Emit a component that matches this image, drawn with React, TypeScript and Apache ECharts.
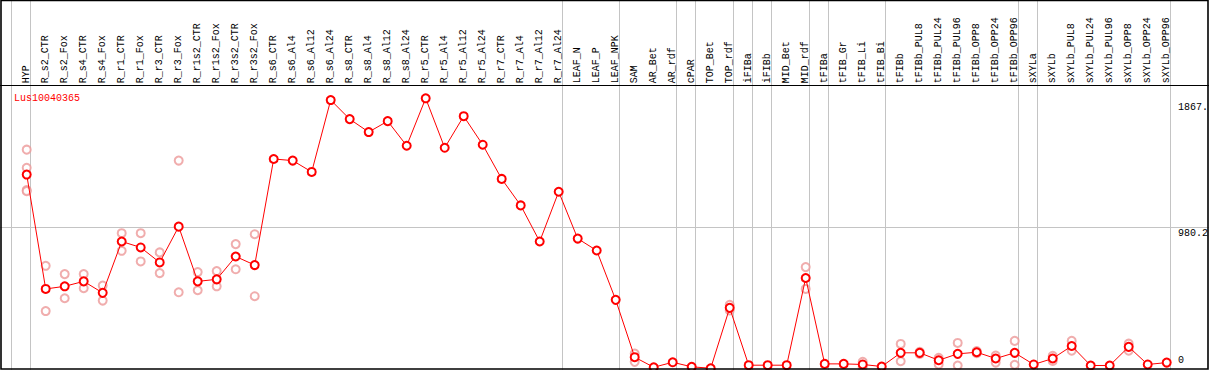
import React, { useEffect, useRef } from "react";
import * as echarts from "echarts";

const title = "Lus10040365";

const categories = [
  "HYP", "R_s2_CTR", "R_s2_Fox", "R_s4_CTR", "R_s4_Fox", "R_r1_CTR", "R_r1_Fox", "R_r3_CTR", "R_r3_Fox",
  "R_r1s2_CTR", "R_r1s2_Fox", "R_r3s2_CTR", "R_r3s2_Fox", "R_s6_CTR", "R_s6_Al4", "R_s6_Al12", "R_s6_Al24",
  "R_s8_CTR", "R_s8_Al4", "R_s8_Al12", "R_s8_Al24", "R_r5_CTR", "R_r5_Al4", "R_r5_Al12", "R_r5_Al24",
  "R_r7_CTR", "R_r7_Al4", "R_r7_Al12", "R_r7_Al24", "LEAF_N", "LEAF_P", "LEAF_NPK", "SAM", "AR_Bet", "AR_rdf",
  "cPAR", "TOP_Bet", "TOP_rdf", "iFIBa", "iFIBb", "MID_Bet", "MID_rdf", "tFIBa", "tFIB_Gr", "tFIB_Li", "tFIB_Bi",
  "tFIBb", "tFIBb_PUL8", "tFIBb_PUL24", "tFIBb_PUL96", "tFIBb_OPP8", "tFIBb_OPP24", "tFIBb_OPP96",
  "sXYLa", "sXYLb", "sXYLb_PUL8", "sXYLb_PUL24", "sXYLb_PUL96", "sXYLb_OPP8", "sXYLb_OPP24", "sXYLb_OPP96",
];

const means = [
  1343, 557, 575, 609, 530, 883, 842, 739, 985,
  609, 623, 780, 721, 1450, 1439, 1361, 1855,
  1724, 1635, 1710, 1541, 1867, 1527, 1744, 1548,
  1313, 1131, 883, 1225, 903, 821, 482, 88, 19, 53,
  22, 12, 427, 33, 33, 33, 632, 42, 42, 38, 24,
  118, 118, 67, 111, 122, 79, 118,
  38, 79, 165, 31, 31, 159, 38, 51,
];

const replicates: number[][] = [
  [1514, 1389, 1236, 1229], [716, 405], [659, 493], [659, 562], [580, 477], [940, 819], [940, 746], [808, 666], [1439, 534],
  [673, 548], [680, 575], [865, 692], [933, 507], [], [], [], [],
  [], [], [], [], [], [], [], [],
  [], [], [], [], [], [], [], [113, 56], [], [],
  [], [], [448, 409], [], [], [], [707, 557], [], [], [56, 20], [],
  [179, 60], [125, 110], [83, 38], [186, 31], [130, 115], [99, 51], [200, 36],
  [], [97, 62], [200, 133], [], [], [181, 133], [], [],
];

// index of last category in each group (a separator follows it)
const groupEnds = [-1, 0, 28, 31, 34, 35, 37, 38, 39, 41, 42, 45, 52, 53, 60];

const yMax = 1867;
const yMid = 980.2;
const yLabels = ["0", "980.2", "1867."];

const FONT = "'Liberation Mono', 'DejaVu Sans Mono', monospace";
const FS = 10;

export default function App() {
  const ref = useRef<HTMLDivElement>(null);
  useEffect(() => {
    document.body.style.margin = "0";
    const el = ref.current!;
    const chart = echarts.init(el, null, { renderer: "svg" });
    const repData: number[][] = [];
    replicates.forEach((arr, i) => arr.forEach((v) => repData.push([i, v])));
    chart.setOption({
      animation: false,
      title: {
        text: title,
        left: 9,
        top: 88,
        textStyle: { color: "#ff0000", fontSize: FS, fontWeight: "normal", fontFamily: FONT },
      },
      grid: { left: 7.7, right: 23.3, top: 98.3, bottom: -1.5 },
      xAxis: {
        type: "value",
        position: "top",
        min: -1,
        max: 61,
        interval: 1,
        axisLine: { show: false },
        axisTick: { show: false },
        splitLine: { show: false },
        axisLabel: {
          rotate: 90,
          margin: 15,
          fontSize: FS,
          fontFamily: FONT,
          color: "#000",
          showMinLabel: true,
          showMaxLabel: true,
          formatter: (v: number) => categories[Math.round(v)] ?? "",
        },
      },
      yAxis: {
        type: "value",
        min: 0,
        max: yMax,
        axisLine: { show: false },
        axisTick: { show: false },
        splitLine: { show: false },
        axisLabel: { show: false },
      },
      series: [
        {
          type: "scatter",
          data: repData,
          symbol: "emptyCircle",
          symbolSize: 8,
          itemStyle: { color: "#ec9898", borderColor: "#ec9898", borderWidth: 1.5 },
          z: 3,
        },
        {
          type: "line",
          data: means.map((v, i) => [i, v]),
          symbol: "emptyCircle",
          symbolSize: 8,
          lineStyle: { color: "#ff0000", width: 1 },
          itemStyle: { color: "#ff0000", borderColor: "#ff0000", borderWidth: 1.6 },
          z: 4,
        },
      ],
    });
    const px = (i: number) => chart.convertToPixel({ gridIndex: 0 }, [i, 0])[0];
    const py = (v: number) => chart.convertToPixel({ gridIndex: 0 }, [0, v])[1];
    const gray = "#c4c4c4";
    const graphics: any[] = [];
    groupEnds.forEach((g) => {
      const x = Math.round(px(g + 0.17)) + 0.5;
      graphics.push({ type: "line", z: 0, shape: { x1: x, y1: 0, x2: x, y2: 370 }, style: { stroke: gray, lineWidth: 1 } });
    });
    const ym = Math.round(py(yMid)) + 0.5;
    graphics.push({ type: "line", z: 0, shape: { x1: 0, y1: ym, x2: 1209, y2: ym }, style: { stroke: gray, lineWidth: 1 } });
    // frame
    graphics.push({ type: "line", z: 10, shape: { x1: 0, y1: 85.5, x2: 1209, y2: 85.5 }, style: { stroke: "#000", lineWidth: 1 } });
    graphics.push({ type: "rect", z: 10, shape: { x: 1, y: 0.5, width: 1207, height: 368.5 }, style: { fill: "none", stroke: "#000", lineWidth: 1.6 } });
    // y labels
    const lx = 1178;
    const ts = { fontSize: FS, fontFamily: FONT, fill: "#000" };
    graphics.push({ type: "text", z: 11, x: lx, y: py(0) - 5, style: { ...ts, text: yLabels[0], verticalAlign: "bottom" } });
    graphics.push({ type: "text", z: 11, x: lx, y: py(yMid) + 1, style: { ...ts, text: yLabels[1], verticalAlign: "top" } });
    graphics.push({ type: "text", z: 11, x: lx, y: py(yMax) + 4, style: { ...ts, text: yLabels[2], verticalAlign: "top" } });
    chart.setOption({ graphic: graphics });
    return () => chart.dispose();
  }, []);
  return <div ref={ref} style={{ position: "absolute", left: 0, top: 0, width: 1209, height: 370 }} />;
}
